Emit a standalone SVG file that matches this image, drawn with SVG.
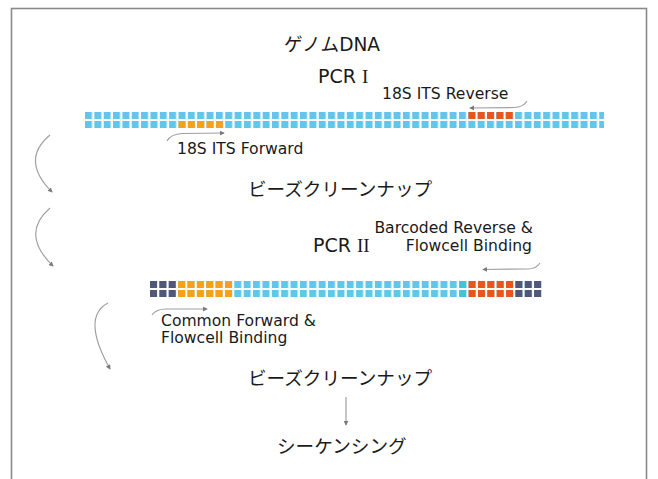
<svg xmlns="http://www.w3.org/2000/svg" width="658" height="479" viewBox="0 0 658 479">
<style>
text{font-family:"DejaVu Sans","Noto Sans CJK JP",sans-serif;fill:#1a1a1a}
.jp{font-size:18.6px}
.lb{font-size:15.6px}
.pcr{font-size:19px}
.rn{font-family:"Liberation Serif","DejaVu Serif",serif}
.cn{fill:none;stroke:#a0a0a0;stroke-width:1.2}
.or{fill:#f5a11c}
.rd{fill:#e9561d}
.dk{fill:#55557a}
.tl{fill:#47c2d4}
</style>
<defs>
<pattern id="p1" patternUnits="userSpaceOnUse" x="85" y="112" width="9.35" height="9">
<rect x="0" y="0" width="7" height="7" fill="#62c5ec"/>
</pattern>
<pattern id="p2" patternUnits="userSpaceOnUse" x="150" y="281" width="9.37" height="9">
<rect x="0" y="0" width="7" height="7" fill="#62c5ec"/>
</pattern>
<marker id="ah" viewBox="0 0 6 6" refX="5" refY="3" markerWidth="5" markerHeight="5" markerUnits="userSpaceOnUse" orient="auto">
<path d="M0,0 L6,3 L0,6 z" fill="#7a7a7a"/>
</marker>
</defs>
<rect x="11.5" y="8.5" width="635" height="480" fill="#fff" stroke="#8a8a8a" stroke-width="1.6"/>

<g id="title"><text class="jp" x="332" y="51" text-anchor="middle">ゲノムDNA</text></g>
<g id="pcr1-label"><text class="pcr" x="318" y="83">PCR <tspan class="rn">I</tspan></text></g>

<g id="strand1">
<rect x="85" y="112" width="519" height="16" fill="url(#p1)"/>
<rect class="or" x="178.5" y="121" width="7" height="7"/>
<rect class="or" x="187.85" y="121" width="7" height="7"/>
<rect class="or" x="197.2" y="121" width="7" height="7"/>
<rect class="or" x="206.55" y="121" width="7" height="7"/>
<rect class="or" x="215.9" y="121" width="7" height="7"/>
<rect class="rd" x="468.35" y="112" width="7" height="7"/>
<rect class="rd" x="477.7" y="112" width="7" height="7"/>
<rect class="rd" x="487.05" y="112" width="7" height="7"/>
<rect class="rd" x="496.4" y="112" width="7" height="7"/>
<rect class="rd" x="505.75" y="112" width="7" height="7"/>
</g>
<g id="primer-rev1"><text class="lb" x="382" y="99">18S ITS Reverse</text></g>
<g id="primer-fwd1"><text class="lb" x="177" y="154">18S ITS Forward</text></g>

<g id="cleanup1"><text class="jp" x="248" y="196">ビーズクリーンナップ</text></g>

<g id="pcr2-label"><text class="pcr" x="313" y="252">PCR <tspan class="rn">II</tspan></text></g>
<g id="primer-rev2">
<text class="lb" x="533" y="233" text-anchor="end">Barcoded Reverse &amp;</text>
<text class="lb" x="532" y="251" text-anchor="end">Flowcell Binding</text>
</g>

<g id="strand2">
<rect x="150" y="281" width="392" height="16" fill="url(#p2)"/>
<g class="dk">
<rect x="150" y="281" width="7" height="7"/><rect x="159.37" y="281" width="7" height="7"/><rect x="168.74" y="281" width="7" height="7"/>
<rect x="150" y="290" width="7" height="7"/><rect x="159.37" y="290" width="7" height="7"/><rect x="168.74" y="290" width="7" height="7"/>
<rect x="515.35" y="281" width="7" height="7"/><rect x="524.72" y="281" width="7" height="7"/><rect x="534.09" y="281" width="7" height="7"/>
<rect x="515.35" y="290" width="7" height="7"/><rect x="524.72" y="290" width="7" height="7"/><rect x="534.09" y="290" width="7" height="7"/>
</g>
<g class="or">
<rect x="178.11" y="281" width="7" height="7"/><rect x="187.48" y="281" width="7" height="7"/><rect x="196.85" y="281" width="7" height="7"/><rect x="206.22" y="281" width="7" height="7"/><rect x="215.59" y="281" width="7" height="7"/><rect x="224.96" y="281" width="7" height="7"/>
<rect x="178.11" y="290" width="7" height="7"/><rect x="187.48" y="290" width="7" height="7"/><rect x="196.85" y="290" width="7" height="7"/><rect x="206.22" y="290" width="7" height="7"/><rect x="215.59" y="290" width="7" height="7"/><rect x="224.96" y="290" width="7" height="7"/>
</g>
<g class="tl">
<rect x="459.21" y="281" width="7" height="7"/><rect x="459.21" y="290" width="7" height="7"/>
</g>
<g class="rd">
<rect x="468.58" y="281" width="7" height="7"/><rect x="477.95" y="281" width="7" height="7"/><rect x="487.32" y="281" width="7" height="7"/><rect x="496.69" y="281" width="7" height="7"/><rect x="506.06" y="281" width="7" height="7"/>
<rect x="468.58" y="290" width="7" height="7"/><rect x="477.95" y="290" width="7" height="7"/><rect x="487.32" y="290" width="7" height="7"/><rect x="496.69" y="290" width="7" height="7"/><rect x="506.06" y="290" width="7" height="7"/>
</g>
</g>

<g id="primer-fwd2">
<text class="lb" x="161" y="326">Common Forward &amp;</text>
<text class="lb" x="161" y="343">Flowcell Binding</text>
</g>

<g id="cleanup2"><text class="jp" x="248" y="385">ビーズクリーンナップ</text></g>
<g id="sequencing"><text class="jp" x="277" y="453">シーケンシング</text></g>

<g id="connectors">
<path class="cn" d="M167,141 Q171,134 182,133.5 L224,133" marker-end="url(#ah)"/>
<path class="cn" d="M527,101 Q523,107.5 514,107.5 L470,108" marker-end="url(#ah)"/>
<path class="cn" d="M152,315 Q156,309 166,309 L207,309" marker-end="url(#ah)"/>
<path class="cn" d="M540,263 Q536,269 528,269 L483,269.5" marker-end="url(#ah)"/>
<path class="cn" d="M50,135 Q20,160 52,192" marker-end="url(#ah)"/>
<path class="cn" d="M50,208 Q20,234 53,266" marker-end="url(#ah)"/>
<path class="cn" d="M108,303 Q81,317 110,369" marker-end="url(#ah)"/>
<path class="cn" d="M346,397 L346,425" marker-end="url(#ah)"/>
</g>
</svg>
